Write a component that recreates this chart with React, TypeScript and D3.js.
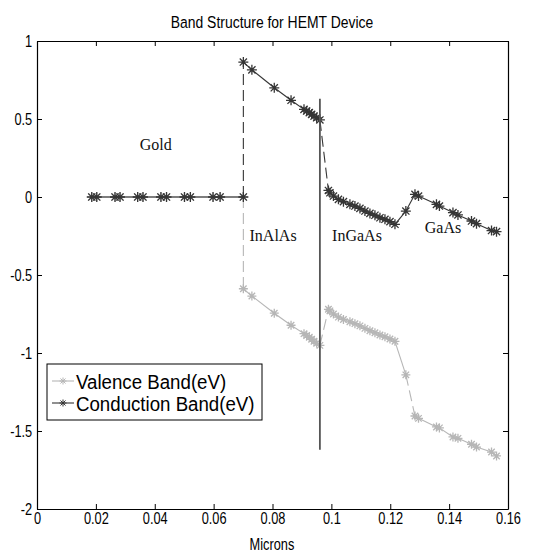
import React, { useEffect, useRef } from "react";
import * as d3 from "d3";

// position along the device (microns) -- gold, InAlAs, InGaAs, transition, GaAs
const microns = [
  0.0186, 0.0203, 0.0265, 0.0282, 0.0342, 0.036, 0.0421, 0.044, 0.0501, 0.0521, 0.0598, 0.0622, 0.0701,
  0.0701, 0.073, 0.0806, 0.0863, 0.0907, 0.0916, 0.0925, 0.0933, 0.0941, 0.095, 0.0961,
  0.099, 0.0995, 0.1007, 0.1024, 0.1041, 0.1063, 0.108, 0.1097, 0.1114, 0.1131, 0.1148, 0.1165, 0.1182, 0.1199, 0.1216,
  0.1253,
  0.1284, 0.1296, 0.1357, 0.1367, 0.1413, 0.143, 0.1476, 0.1493, 0.1544, 0.1561,
];

const conductionBand = [
  0, 0, 0, 0, 0, 0, 0, 0, 0, 0, 0, 0, 0,
  0.865, 0.815, 0.7, 0.62, 0.562, 0.551, 0.541, 0.53, 0.519, 0.508, 0.494,
  0.042, 0.027, 0.006, -0.015, -0.03, -0.047, -0.058, -0.073, -0.09, -0.105, -0.117, -0.133, -0.143, -0.158, -0.175,
  -0.09,
  0.017, 0.006, -0.047, -0.058, -0.1, -0.115, -0.154, -0.171, -0.215, -0.222,
];

const valenceBand = [
  0, 0, 0, 0, 0, 0, 0, 0, 0, 0, 0, 0, 0,
  -0.588, -0.635, -0.745, -0.822, -0.876, -0.888, -0.899, -0.912, -0.925, -0.938, -0.951,
  -0.72, -0.73, -0.75, -0.77, -0.785, -0.8, -0.812, -0.826, -0.842, -0.857, -0.87, -0.885, -0.896, -0.91, -0.925,
  -1.14,
  -1.404, -1.419, -1.474, -1.48, -1.538, -1.547, -1.585, -1.603, -1.635, -1.66,
];

// heterojunction marker line
const junctionX = [0.0961];
const junctionY = [0.63, -1.62];

const regionLabels = [
  { name: "Gold", x: 0.0403, y: 0.3 },
  { name: "InAlAs", x: 0.0802, y: -0.28 },
  { name: "InGaAs", x: 0.1087, y: -0.28 },
  { name: "GaAs", x: 0.1379, y: -0.23 },
];

const xTicks = [0, 0.02, 0.04, 0.06, 0.08, 0.1, 0.12, 0.14, 0.16];
const yTicks = [-2, -1.5, -1, -0.5, 0, 0.5, 1];

const series = [
  { name: "Valence Band(eV)", values: valenceBand, color: "#b6b6b6", r: 4.5 },
  { name: "Conduction Band(eV)", values: conductionBand, color: "#353535", r: 5 },
];

const W = 539;
const H = 559;
const sans = "'Liberation Sans', Arial, sans-serif";
const serif = "'Liberation Serif', 'Times New Roman', serif";
// the original figure uses a tall narrow font; squeeze horizontally
const narrow = "scale(0.8,1)";

// MATLAB style '*' marker
const star = (r: number) => {
  const d = r * 0.72;
  return `M${-r},0L${r},0M0,${-r}L0,${r}M${-d},${-d}L${d},${d}M${-d},${d}L${d},${-d}`;
};

const App = () => {
  const svgRef = useRef<SVGSVGElement | null>(null);

  useEffect(() => {
    const svg = d3.select(svgRef.current);
    svg.selectAll("*").remove();

    const x = d3.scaleLinear().domain([0, 0.16]).range([37, 508]);
    const y = d3.scaleLinear().domain([-2, 1]).range([509, 41]);

    svg.append("rect").attr("width", W).attr("height", H).attr("fill", "#fff");

    // title
    svg
      .append("g")
      .attr("transform", "translate(272,28)")
      .append("text")
      .attr("transform", "scale(0.82,1)")
      .attr("text-anchor", "middle")
      .style("font-family", sans)
      .style("font-size", "17px")
      .text("Band Structure for HEMT Device");

    // axes (ticks pointing inward)
    const styleAxis = (g: any) => {
      g.select(".domain").attr("stroke", "#000").attr("stroke-width", 1.2).attr("fill", "none");
      g.selectAll(".tick line").attr("stroke", "#000");
      g.selectAll("text")
        .style("font-family", sans)
        .style("font-size", "16px")
        .attr("fill", "#000")
        .attr("transform", narrow);
    };
    svg
      .append("g")
      .attr("transform", `translate(0,509)`)
      .call(d3.axisBottom(x).tickValues(xTicks).tickFormat((d: any) => String(d)).tickSizeInner(-5).tickSizeOuter(0).tickPadding(4))
      .call(styleAxis);
    svg
      .append("g")
      .attr("transform", `translate(0,41)`)
      .call(d3.axisTop(x).tickValues(xTicks).tickFormat(() => "").tickSizeInner(-5).tickSizeOuter(0))
      .call(styleAxis);
    svg
      .append("g")
      .attr("transform", `translate(37,0)`)
      .call(d3.axisLeft(y).tickValues(yTicks).tickFormat((d: any) => String(d)).tickSizeInner(-5).tickSizeOuter(0).tickPadding(6))
      .call(styleAxis);
    svg
      .append("g")
      .attr("transform", `translate(508,0)`)
      .call(d3.axisRight(y).tickValues(yTicks).tickFormat(() => "").tickSizeInner(-5).tickSizeOuter(0))
      .call(styleAxis);

    // x label
    svg
      .append("g")
      .attr("transform", "translate(272,550)")
      .append("text")
      .attr("transform", narrow)
      .attr("text-anchor", "middle")
      .style("font-family", sans)
      .style("font-size", "16px")
      .text("Microns");

    // band curves: draw segment by segment so the steep jumps come out dashed
    series.forEach((s) => {
      const g = svg.append("g");
      for (let i = 1; i < microns.length; i++) {
        const x0 = x(microns[i - 1]);
        const x1 = x(microns[i]);
        const y0 = y(s.values[i - 1]);
        const y1 = y(s.values[i]);
        const steep = Math.abs(y1 - y0) > 4 * Math.abs(x1 - x0) && Math.abs(y1 - y0) > 20;
        g.append("line")
          .attr("x1", x0)
          .attr("y1", y0)
          .attr("x2", x1)
          .attr("y2", y1)
          .attr("stroke", s.color)
          .attr("stroke-width", 1.1)
          .attr("stroke-dasharray", steep ? "11,5" : null);
      }
      g.selectAll(".mk")
        .data(microns)
        .enter()
        .append("path")
        .attr("d", star(s.r))
        .attr("transform", (d, i) => `translate(${x(d)},${y(s.values[i])})`)
        .attr("stroke", s.color)
        .attr("stroke-width", 1.3)
        .attr("fill", "none");
    });

    // junction line
    svg
      .append("line")
      .attr("x1", x(junctionX[0]))
      .attr("x2", x(junctionX[0]))
      .attr("y1", y(junctionY[0]))
      .attr("y2", y(junctionY[1]))
      .attr("stroke", "#555")
      .attr("stroke-width", 1.8);

    // region labels
    svg
      .selectAll(".region")
      .data(regionLabels)
      .enter()
      .append("text")
      .attr("x", (d) => x(d.x))
      .attr("y", (d) => y(d.y))
      .attr("text-anchor", "middle")
      .style("font-family", serif)
      .style("font-size", "16px")
      .attr("fill", "#111")
      .text((d) => d.name);

    // legend
    const lg = svg.append("g").attr("transform", "translate(47,364)");
    lg.append("rect").attr("width", 215).attr("height", 56).attr("fill", "#fff").attr("stroke", "#000").attr("stroke-width", 1);
    series.forEach((s, i) => {
      const row = lg.append("g").attr("transform", `translate(0,${17 + i * 22})`);
      row.append("line").attr("x1", 5).attr("x2", 27).attr("stroke", s.color).attr("stroke-width", 1.1);
      row.append("path").attr("d", star(3.5)).attr("transform", "translate(16,0)").attr("stroke", s.color).attr("fill", "none");
      row
        .append("g")
        .attr("transform", "translate(29,0)")
        .append("text")
        .attr("transform", "scale(0.89,1)")
        .attr("dy", "0.36em")
        .style("font-family", sans)
        .style("font-size", "21px")
        .text(s.name);
    });
  }, []);

  return (
    <svg
      ref={svgRef}
      width={W}
      height={H}
      style={{ position: "absolute", left: 0, top: 0, display: "block" }}
    ></svg>
  );
};

export default App;
